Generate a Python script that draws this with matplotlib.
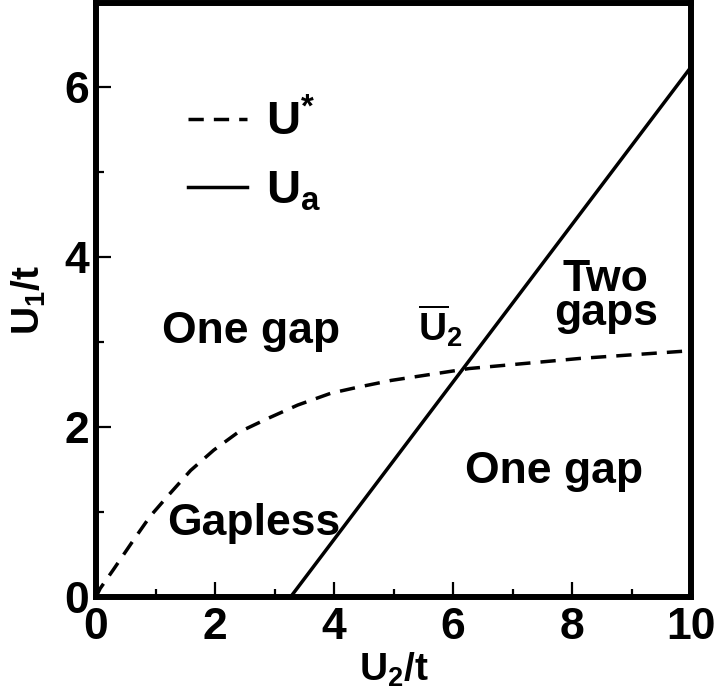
import matplotlib
matplotlib.use("Agg")
import matplotlib.pyplot as plt
from matplotlib.ticker import MultipleLocator

# fonts: bold helvetica look
plt.rcParams['font.family'] = ['Liberation Sans', 'DejaVu Sans']
plt.rcParams['font.weight'] = 'bold'
plt.rcParams['mathtext.fontset'] = 'custom'
plt.rcParams['mathtext.rm'] = 'Liberation Sans:bold'
plt.rcParams['mathtext.it'] = 'Liberation Sans:bold'
plt.rcParams['mathtext.bf'] = 'Liberation Sans:bold'

# U* boundary (dashed)
ustar_x = [0.0, 0.07, 0.29, 0.63, 0.91, 1.22, 1.59, 1.98, 2.37, 2.88, 3.39, 3.95, 4.4, 4.96, 6.27, 8.15, 10.0]
ustar_y = [0.0, 0.10, 0.32, 0.67, 0.95, 1.20, 1.49, 1.73, 1.93, 2.10, 2.26, 2.40, 2.47, 2.55, 2.69, 2.81, 2.90]

# U_a boundary (solid straight line)
ua_x = [3.27, 10.0]
ua_y = [0.0, 6.24]

x_ticks = [0, 2, 4, 6, 8, 10]
y_ticks = [0, 2, 4, 6]

fig = plt.figure(figsize=(7.17, 6.93), dpi=100)
ax = fig.add_axes([96 / 717, 96 / 693, 595 / 717, 594.5 / 693])

l1, = ax.plot(ustar_x, ustar_y, color='black', lw=2.5, dashes=(4.4, 2.9))
l2, = ax.plot(ua_x, ua_y, color='black', lw=2.5)

ax.set_xlim(0, 10)
ax.set_ylim(0, 7)
ax.set_xticks(x_ticks)
ax.set_yticks(y_ticks)
ax.xaxis.set_minor_locator(MultipleLocator(1))
ax.yaxis.set_minor_locator(MultipleLocator(1))
ax.tick_params(which='both', direction='in', width=1.6, top=False, right=False,
               labelsize=32)
ax.tick_params(which='major', length=11)
ax.tick_params(which='minor', length=5.5)
ax.tick_params(axis='x', pad=7)
ax.tick_params(axis='y', pad=5)
for s in ax.spines.values():
    s.set_linewidth(4.3)

ax.set_xlabel(r'$\mathrm{U_2/t}$', fontsize=28, labelpad=2)
ax.set_ylabel(r'$\mathrm{U_1/t}$', fontsize=28, labelpad=12)

# region labels
ax.text(1.11, 2.99, 'One gap', fontsize=32, ha='left', va='baseline')
ax.text(6.21, 1.34, 'One gap', fontsize=32, ha='left', va='baseline')
ax.text(1.20, 0.73, 'Gapless', fontsize=32, ha='left', va='baseline')
ax.text(8.57, 3.20, 'Two\ngaps', fontsize=32, ha='center', va='baseline',
        linespacing=0.78)
ax.text(5.42, 3.02, r'$\overline{\mathrm{U}}_{2}$', fontsize=28, ha='left', va='baseline')

ax.legend([l1, l2], [r'$\mathrm{U}^{*}$', r'$\mathrm{U_a}$'], loc='upper left',
          bbox_to_anchor=(0.154, 0.835), frameon=False, fontsize=34,
          handlelength=1.25, handletextpad=0.4, labelspacing=0.5,
          borderpad=0, borderaxespad=0)

fig.savefig('out.png', dpi=100)
